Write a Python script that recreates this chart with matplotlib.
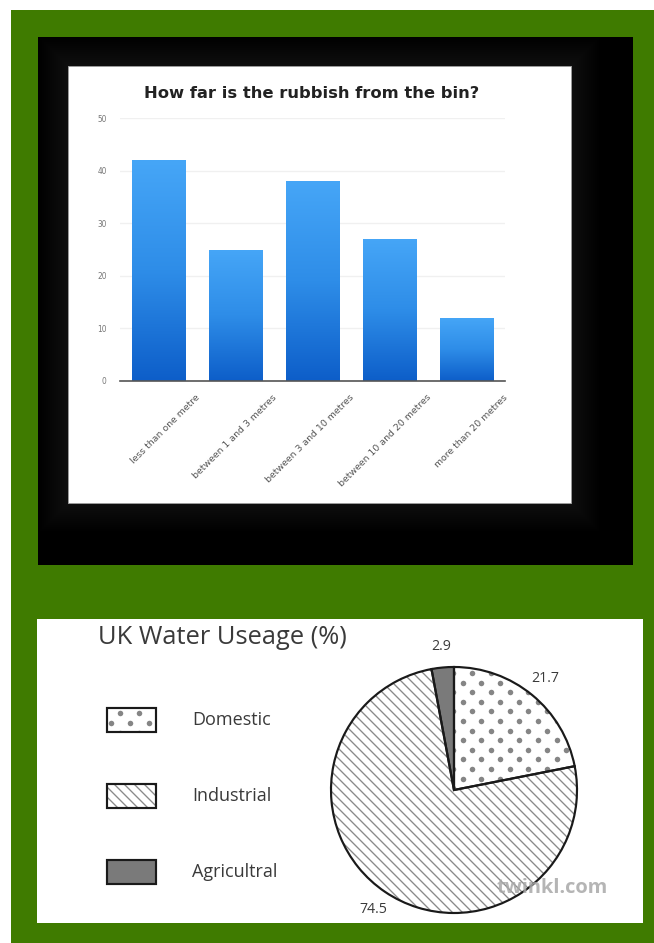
import matplotlib
matplotlib.use("Agg")
import matplotlib.pyplot as plt
import numpy as np
from matplotlib.patches import Rectangle
from matplotlib.colors import LinearSegmentedColormap
from matplotlib.transforms import ScaledTranslation

# --- data ---
bin_categories = ["less than one metre", "between 1 and 3 metres",
                  "between 3 and 10 metres", "between 10 and 20 metres",
                  "more than 20 metres"]
bin_counts = [42, 25, 38, 27, 12]
bin_ticks = [0, 10, 20, 30, 40, 50]

water_labels = ["Domestic", "Industrial", "Agricultral"]
water_values = [21.7, 74.5, 2.9]

W, H, DPI = 654, 943, 120
GREEN = "#3f7b00"
TEXT = "#3a3a3a"
DOT = "#858585"
DIAG = "\\" * 4
plt.rcParams["hatch.linewidth"] = 0.8


def frac(x0, y0, x1, y1):
    # pixel box (top-left origin) -> figure fraction rect
    return [x0 / W, 1 - y1 / H, (x1 - x0) / W, (y1 - y0) / H]


def dot_texture(axis, patch, xr, yr, dx, dy, size):
    # staggered dot pattern clipped to a patch (like the printed dotted fill)
    pts = []
    for i, yy in enumerate(np.arange(yr[0], yr[1], dy)):
        for xx in np.arange(xr[0] + (i % 2) * dx / 2, xr[1], dx):
            pts.append((xx, yy))
    pts = np.array(pts)
    sc = axis.scatter(pts[:, 0], pts[:, 1], s=size, color=DOT, linewidths=0, zorder=3)
    sc.set_clip_path(patch)


fig = plt.figure(figsize=(W / DPI, H / DPI), dpi=DPI, facecolor="white")

# background layer in pixel coordinates
bg = fig.add_axes([0, 0, 1, 1], zorder=-1)
bg.set_xlim(0, W)
bg.set_ylim(H, 0)
bg.axis("off")
bg.add_patch(Rectangle((11, 10), W - 11, H - 10, color=GREEN, lw=0))
bg.add_patch(Rectangle((38, 37), 595, 528, color="black", lw=0))
for pad in range(28, 0, -2):
    bg.add_patch(Rectangle((68 - pad, 66 - pad), 503 + 2 * pad, 437 + 2 * pad,
                           color="white", alpha=0.007, lw=0))
bg.add_patch(Rectangle((68, 66), 503, 437, facecolor="white", edgecolor="#9a9a9a", lw=0.6))
bg.add_patch(Rectangle((37, 619), 606, 304, color="white", lw=0))

# ---------------- bar chart ----------------
ax = fig.add_axes(frac(120, 118, 505, 381))
ax.set_facecolor("none")
x = np.arange(len(bin_categories))
bars = ax.bar(x, bin_counts, width=0.7, color="none", zorder=2)
cmap = LinearSegmentedColormap.from_list("bluegrad", ["#0d5ec9", "#2e8de8", "#46a6f7"])
grad = np.linspace(0, 1, 256).reshape(-1, 1)
for bar in bars:
    x0, y0 = bar.get_xy()
    im = ax.imshow(grad, extent=[x0, x0 + bar.get_width(), y0, y0 + bar.get_height()],
                   origin="lower", cmap=cmap, aspect="auto", zorder=2)
    im.set_clip_path(bar)
ax.set_xlim(-0.5, len(bin_categories) - 0.5)
ax.set_ylim(0, 50)
ax.set_yticks(bin_ticks)
ax.set_yticklabels([str(t) for t in bin_ticks], fontsize=4.5, color="#777777")
ax.tick_params(axis="y", length=0, pad=8)
ax.grid(axis="y", color="#f0f0f0", lw=0.8, zorder=0)
ax.set_axisbelow(True)
for s in ["top", "right", "left"]:
    ax.spines[s].set_visible(False)
ax.spines["bottom"].set_color("#555555")
ax.spines["bottom"].set_linewidth(1.0)
ax.set_xticks(x)
ax.set_xticklabels(bin_categories, fontsize=5.6, color="#555555", rotation=45,
                   ha="right", va="top", rotation_mode="anchor")
ax.tick_params(axis="x", length=0, pad=7)
shift = ScaledTranslation(37 / DPI, 0, fig.dpi_scale_trans)
for lab in ax.get_xticklabels():
    lab.set_transform(lab.get_transform() + shift)
fig.text(312 / W, 1 - 93 / H, "How far is the rubbish from the bin?", ha="center",
         va="center", fontsize=9.8, fontweight="bold", color="#222222", family="DejaVu Sans")

# ---------------- pie chart ----------------
cx, cy, R = 454, 790, 123
pax = fig.add_axes(frac(cx - R, cy - R, cx + R, cy + R))
wedges, _ = pax.pie(water_values, startangle=90, counterclock=False, radius=1,
                    colors=["white", "white", "#7a7a7a"], hatch=["", DIAG, ""],
                    labels=[f"{v}" for v in water_values], labeldistance=1.17,
                    textprops=dict(fontsize=8.5, color=TEXT, family="Open Sans",
                                   ha="center", va="center"),
                    wedgeprops=dict(edgecolor="#8a8a8a", linewidth=0))
dot_texture(pax, wedges[0], (-1, 1), (-1, 1), 18.8 / R, 9.6 / R, 11)
pax.pie(water_values, startangle=90, counterclock=False, radius=1,
        wedgeprops=dict(fill=False, edgecolor="#1a1a1a", linewidth=1.3, zorder=4))
pax.set_xlim(-1, 1)
pax.set_ylim(-1, 1)

bg.text(98, 637, "UK Water Useage (%)", fontsize=15.3, color=TEXT, family="Open Sans",
        ha="left", va="center")
legend_y = [720, 796, 872]
legend_hatch = ["", DIAG, ""]
legend_fill = ["white", "white", "#7a7a7a"]
for k, (lab, ly, hh, fc) in enumerate(zip(water_labels, legend_y, legend_hatch, legend_fill)):
    box = Rectangle((107, ly - 12), 49, 24, facecolor=fc, hatch=hh, edgecolor="#8a8a8a", lw=0)
    bg.add_patch(box)
    if k == 0:
        dot_texture(bg, box, (101, 160), (ly - 7, ly + 14), 19, 10, 11)
    bg.add_patch(Rectangle((107, ly - 12), 49, 24, fill=False, edgecolor="#1a1a1a",
                           lw=1.3, zorder=4))
    bg.text(192, ly, lab, fontsize=10.8, color=TEXT, family="Open Sans", ha="left", va="center")

fig.text(552 / W, 1 - 888 / H, "twinkl.com", fontsize=12, color="#a8a8a8",
         family="Open Sans", fontweight="bold", ha="center", va="center", alpha=0.85)

fig.savefig("out.png", dpi=DPI)
